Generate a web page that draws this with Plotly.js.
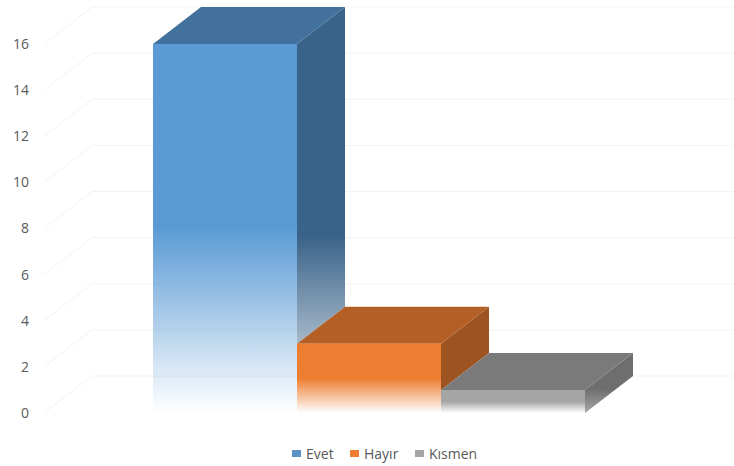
<!DOCTYPE html>
<html>
<head>
<meta charset="utf-8">
<script src="https://cdn.plot.ly/plotly-3.0.1.min.js"></script>
<style>html,body{margin:0;padding:0;background:#fff}#c{width:734px;height:466px}</style>
</head>
<body>
<div id="c"></div>
<script>
const categories = ['Evet', 'Hayır', 'Kısmen'];
const values = [16, 3, 1];
const tickVals = [0, 2, 4, 6, 8, 10, 12, 14, 16];
const frontRGB = ['91,155,213', '237,125,49', '165,165,165'];
const topRGB = ['65,113,156', '180,95,38', '122,122,122'];
const sideRGB = ['58,99,137', '158,84,32', '110,110,110'];
const sideSolidFrom = [0.32, 0, 0.4];
const sideEndAlpha = [0.45, 1, 0.6];
const swatchColors = ['#5b93c4', '#ed7d31', '#a5a5a5'];

const W = 734, H = 466, L = 30;
const pxPerX = 144, pxPerY = 23.06, zeroPx = 413, firstCenterPx = 225;
const depthX = 48 / pxPerX, depthY = 37 / pxPerY;
const half = 0.5;
const grad = (rgb, solidUntil, endAlpha) => ({
  type: 'vertical',
  colorscale: [[0, `rgba(${rgb},${endAlpha})`], [solidUntil, `rgba(${rgb},1)`], [1, `rgba(${rgb},1)`]]
});
const poly = (name, x, y, fillgradient, fillcolor) => ({
  type: 'scatter', mode: 'lines', name, x, y, fill: 'toself',
  line: {width: 0}, showlegend: false, hoverinfo: 'skip',
  ...(fillgradient ? {fillgradient} : {fillcolor})
});

const xMin = (L - firstCenterPx) / pxPerX, xMax = (W - firstCenterPx) / pxPerX;
const gridStart = (44 - firstCenterPx) / pxPerX;
const gx = [], gy = [];
tickVals.forEach(t => {
  gx.push(gridStart, gridStart + depthX, xMax, null);
  gy.push(t, t + depthY, t + depthY, null);
});
const traces = [{
  type: 'scatter', mode: 'lines', x: gx, y: gy, showlegend: false, hoverinfo: 'skip',
  line: {color: '#f3f3f3', width: 1}
}];

categories.forEach((c, i) => {
  const v = values[i], a = i - half, b = i + half;
  const next = i + 1 < values.length ? values[i + 1] : 0;
  traces.push(poly(c + ' side',
    [b, b + depthX, b + depthX, b, b], [v, v + depthY, next + depthY, next, v],
    grad(sideRGB[i], Math.max(sideSolidFrom[i], 0.001), sideEndAlpha[i])));
  traces.push(poly(c + ' top',
    [a, a + depthX, b + depthX, b, a], [v, v + depthY, v + depthY, v, v],
    null, `rgb(${topRGB[i]})`));
  traces.push(poly(c,
    [a, b, b, a, a], [0, 0, v, v, 0],
    grad(frontRGB[i], 0.5, 0)));
});

const legendSwatchX = [292, 350, 415];
const legendTextX = [304, 362, 427];
const legendY = 453.5;
const shapes = categories.map((c, i) => ({
  type: 'rect', xref: 'paper', yref: 'paper', line: {width: 0}, fillcolor: swatchColors[i],
  x0: (legendSwatchX[i] - L) / (W - L), x1: (legendSwatchX[i] + 9 - L) / (W - L),
  y0: 1 - (legendY + 3.5) / H, y1: 1 - (legendY - 3.5) / H
}));
const annotations = categories.map((c, i) => ({
  text: c, showarrow: false, xref: 'paper', yref: 'paper', xanchor: 'left', yanchor: 'middle',
  x: (legendTextX[i] - L) / (W - L), y: 1 - legendY / H,
  font: {family: 'Open Sans, sans-serif', size: 14, color: '#595959'}
}));

Plotly.newPlot('c', traces, {
  width: W, height: H,
  margin: {l: L, r: 0, t: 0, b: 0, pad: 0},
  paper_bgcolor: '#fff', plot_bgcolor: '#fff',
  showlegend: false, hovermode: false,
  xaxis: {range: [xMin, xMax], visible: false, fixedrange: true},
  yaxis: {
    range: [(zeroPx - H) / pxPerY, zeroPx / pxPerY],
    tickvals: tickVals, ticktext: tickVals.map(String),
    showgrid: false, zeroline: false, showline: false, ticks: '',
    tickfont: {family: 'Open Sans, sans-serif', size: 14, color: '#595959'},
    fixedrange: true
  },
  shapes, annotations
}, {displayModeBar: false, staticPlot: true});
</script>
</body>
</html>
